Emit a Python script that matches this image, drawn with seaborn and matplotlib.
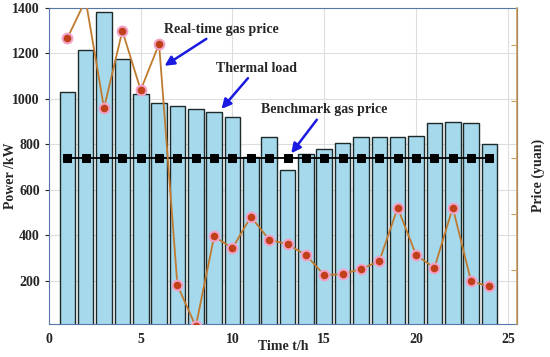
import numpy as np
import pandas as pd
import matplotlib
matplotlib.use("Agg")
import matplotlib.pyplot as plt
import seaborn as sns

# Data
hours = list(range(1, 25))
thermal_load = [1030, 1215, 1380, 1175, 1020, 980, 970, 955, 940, 920, 745, 830,
                685, 758, 780, 805, 832, 832, 833, 836, 895, 897, 893, 803]
realtime_price = [5.12, 5.8, 3.88, 5.25, 4.2, 5.02, 0.73, 0.0, 1.6, 1.39, 1.95, 1.54,
                  1.46, 1.27, 0.91, 0.93, 1.02, 1.16, 2.11, 1.27, 1.04, 2.11, 0.80, 0.71]
benchmark_price = [3.0] * 24

df = pd.DataFrame({"hour": hours, "load": thermal_load,
                   "price": realtime_price, "bench": benchmark_price})

sns.set_style("white")
plt.rcParams['font.family'] = ['Liberation Serif', 'DejaVu Serif']
plt.rcParams['font.weight'] = 'bold'

fig = plt.figure(figsize=(5.5, 3.57), dpi=100)
ax = fig.add_axes([0.089, 0.092, 0.851, 0.886])

# Thermal load bars
sns.barplot(data=df, x="hour", y="load", native_scale=True, width=0.85,
            color="#a6d9ec", saturation=1, edgecolor="#1c2a2a", linewidth=1.0, ax=ax, zorder=2)
ax.set_xlim(0, 25.5)
ax.set_ylim(8, 1400)
ax.set_xticks([0, 5, 10, 15, 20, 25])
ax.set_yticks([200, 400, 600, 800, 1000, 1200, 1400])
ax.grid(True, color="#dddddd", linewidth=0.8, zorder=0)
ax.set_axisbelow(True)
ax.set_xlabel("Time t/h", fontsize=10, fontweight="bold")
ax.set_ylabel("Power /kW", fontsize=10, fontweight="bold")
ax.xaxis.set_label_coords(0.5, -0.07)
ax.xaxis.label.set_va("center")
ax.yaxis.set_label_coords(-0.083, 0.47)
ax.yaxis.label.set_va("center")
ax.tick_params(labelsize=10, length=3)
for lab in ax.get_xticklabels() + ax.get_yticklabels():
    lab.set_fontweight("bold")
for s in ["left", "bottom", "top"]:
    ax.spines[s].set_color("#5577aa")
    ax.spines[s].set_linewidth(0.8)

# Price axis
ax2 = ax.twinx()
sns.lineplot(data=df, x="hour", y="bench", ax=ax2, color="black", linewidth=1.3,
             marker="s", markersize=6, markeredgecolor="black", zorder=3)
sns.lineplot(data=df, x="hour", y="price", ax=ax2, color="#c07a30", linewidth=1.3,
             marker="o", markersize=7, markerfacecolor="#c0401a",
             markeredgecolor="#f2a2c8", markeredgewidth=1.5, zorder=4)
ax2.set_ylim(0.04, 5.66)
ax2.set_yticks([1, 2, 3, 4, 5])
ax2.set_yticklabels([])
ax2.tick_params(axis="y", direction="in", colors="#c8a060", length=4)
ax2.set_ylabel("Price (yuan)", fontsize=10, fontweight="bold")
ax2.yaxis.set_label_coords(1.045, 0.47)
ax2.yaxis.label.set_va("center")
ax2.spines["right"].set_color("#c8a060")
ax2.spines["right"].set_linewidth(1.2)
for s in ["left", "bottom", "top"]:
    ax2.spines[s].set_visible(False)
ax.set_xlim(0, 25.5)

# Annotations
arrow = dict(arrowstyle="-|>", color="#1a1ae0", lw=1.8, mutation_scale=14)
ax.annotate("Real-time gas price", xy=(6.3, 1145), xytext=(9.4, 1278),
            fontsize=10, fontweight="bold", ha="center", va="bottom",
            arrowprops=dict(arrow, shrinkA=0, shrinkB=0), zorder=6)
ax.annotate("Thermal load", xy=(9.4, 955), xytext=(11.3, 1105),
            fontsize=10, fontweight="bold", ha="center", va="bottom",
            arrowprops=dict(arrow, shrinkA=0, shrinkB=0), zorder=6)
ax.annotate("Benchmark gas price", xy=(13.2, 760), xytext=(15.0, 922),
            fontsize=10, fontweight="bold", ha="center", va="bottom",
            arrowprops=dict(arrow, shrinkA=0, shrinkB=0), zorder=6)

fig.savefig("out.png", dpi=100)
